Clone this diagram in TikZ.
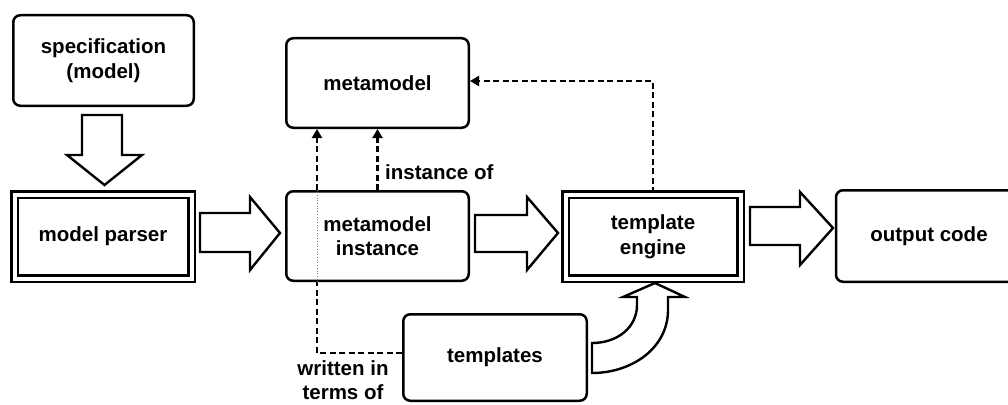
\documentclass[tikz,border=0pt]{standalone}
\usepackage{fontspec}
\setmainfont{Liberation Sans}
\usetikzlibrary{arrows.meta}
\begin{document}
\begin{tikzpicture}[x=1pt,y=-1pt,
  lbl/.style={font=\fontsize{20.5}{24.5}\selectfont\bfseries},
  rbox/.style={lbl,draw,line width=2.5pt,rounded corners=7pt,fill=white,inner sep=0pt,align=center},
  dbox/.style={lbl,draw,line width=2.5pt,double,double distance=4pt,fill=white,inner sep=0pt,align=center},
  blockarrow/.style={draw,line width=2.4pt,fill=white,line join=miter},
  dep/.style={draw,line width=2.5pt,dash pattern=on 6pt off 3.5pt},
  deparrow/.style={dep,-{Triangle[length=9pt,width=10pt]}},
]
\clip (0,0) rectangle (1008,404);
\fill[white] (0,0) rectangle (1008,404);

% nodes
\node[rbox,minimum width=180.5pt,minimum height=90.5pt] (spec) at (103.5,60.5) {specification\\(model)};
\node[dbox,minimum width=177pt,minimum height=84pt] (parser) at (103,236.5) {model parser};
\node[rbox,minimum width=182.5pt,minimum height=89.5pt] (metamodel) at (377.5,83) {metamodel};
\node[rbox,minimum width=182.5pt,minimum height=89.5pt] (instance) at (377.5,236) {metamodel\\instance};
\node[dbox,minimum width=175pt,minimum height=84pt] (engine) at (653,236.5) {template\\engine};
\node[rbox,minimum width=190pt,minimum height=91.5pt] (output) at (931,236) {\hspace*{-4pt}output code};
\node[rbox,minimum width=183.5pt,minimum height=86.5pt] (templates) at (495,357.5) {templates};

% block arrows
\draw[blockarrow] (82,115) -- (122,115) -- (122,155) -- (142,155) -- (104.5,185) -- (67,155) -- (82,155) -- cycle;
\draw[blockarrow] (200,213) -- (250,213) -- (250,197) -- (280,233) -- (250,270) -- (250,252) -- (200,252) -- cycle;
\draw[blockarrow] (475,215) -- (527,215) -- (527,197) -- (558,233) -- (527,270) -- (527,252) -- (475,252) -- cycle;
\draw[blockarrow] (750,207) -- (800,207) -- (800,192) -- (833,228) -- (800,265) -- (800,245) -- (750,245) -- cycle;
\draw[blockarrow] (592,343) .. controls (618,343) and (637,327) .. (637,305) -- (637,297) -- (623,297) -- (655,283)
  -- (685,297) -- (668,297) -- (668,310) .. controls (668,348) and (632,373) .. (592,373) -- cycle;

% dependency connectors
\coordinate (wL) at (317,0);
\draw[dep] ([yshift=4.5pt]templates.west) -| (wL |- instance.south);
\draw[gray,line width=0.7pt,dotted] (wL |- instance.south) -- (wL |- instance.north);
\draw[deparrow] (wL |- instance.north) -- (wL |- metamodel.south);
\draw[deparrow] (instance.north) -- (metamodel.south);
\draw[deparrow] (engine.north) |- ([yshift=2pt]metamodel.east);

% labels
\node[lbl,anchor=west,inner sep=0pt] (inst) at (385,172) {instance of};
\node[lbl,align=center,inner sep=0pt] (written) at (343,380) {written in\\terms of};
\end{tikzpicture}
\end{document}
